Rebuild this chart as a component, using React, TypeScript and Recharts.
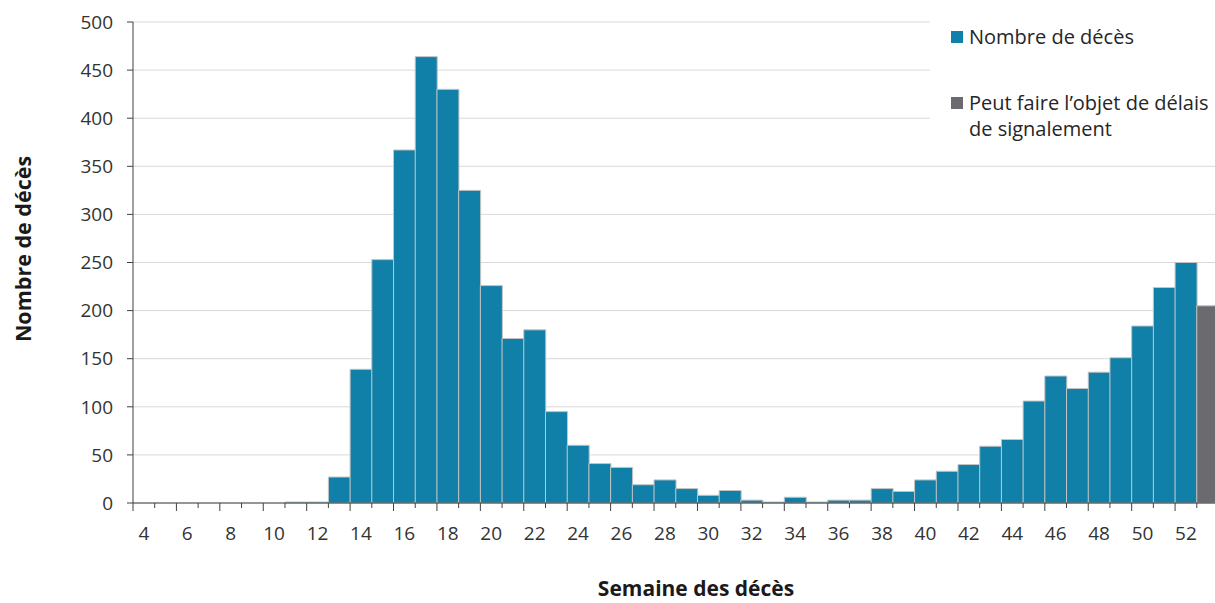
import React from 'react';
import { BarChart, Bar, XAxis, YAxis, CartesianGrid, Label } from 'recharts';

const weeks = [4, 5, 6, 7, 8, 9, 10, 11, 12, 13, 14, 15, 16, 17, 18, 19, 20, 21, 22, 23, 24, 25, 26, 27, 28, 29, 30, 31, 32, 33, 34, 35, 36, 37, 38, 39, 40, 41, 42, 43, 44, 45, 46, 47, 48, 49, 50, 51, 52, 53];
const deaths = [0, 0, 0, 0, 0, 0, 0, 1, 1, 27, 139, 253, 367, 464, 430, 325, 226, 171, 180, 95, 60, 41, 37, 19, 24, 15, 8, 13, 3, 1, 6, 1, 3, 3, 15, 12, 24, 33, 40, 59, 66, 106, 132, 119, 136, 151, 184, 224, 250, null];
const delayed = [null, null, null, null, null, null, null, null, null, null, null, null, null, null, null, null, null, null, null, null, null, null, null, null, null, null, null, null, null, null, null, null, null, null, null, null, null, null, null, null, null, null, null, null, null, null, null, null, null, 205];
const yTicks = [0, 50, 100, 150, 200, 250, 300, 350, 400, 450, 500];

const seriesNames = ['Nombre de décès', 'Peut faire l’objet de délais', 'de signalement'];
const yTitle = 'Nombre de décès';
const xTitle = 'Semaine des décès';

const data = weeks.map((w, i) => ({ week: w, deaths: deaths[i], delayed: delayed[i] }));

const CHART_W = 1232;
const CHART_H = 603;
const MARGIN = { top: 22, right: 13.5, left: 0, bottom: 0 };
const Y_W = 133;
const PLOT_W = CHART_W - MARGIN.right - MARGIN.left - Y_W;
const BW = PLOT_W / weeks.length;

const BLUE = '#1180a8';
const GREY = '#6a6a6f';
const AXIS = '#404040';
const TEXT = '#333333';
const FONT = '"Open Sans", sans-serif';

function WeekTick(props: any) {
  const { x, y, payload } = props;
  const w = payload.value;
  const left = x - BW / 2;
  const even = w % 2 === 0;
  return (
    <g>
      <line x1={left} x2={left} y1={y} y2={y + (even ? 8 : 5)} stroke={AXIS} strokeWidth={1} />
      {even && (
        <text x={x} y={y + 37} textAnchor="middle" fontFamily={FONT} fontSize={19} fill={TEXT}>
          {w}
        </text>
      )}
    </g>
  );
}

export default function App() {
  return (
    <div style={{ position: 'fixed', left: 0, top: 0, width: 1215, height: 603, overflow: 'hidden', background: '#fff' }}>
      <BarChart width={CHART_W} height={CHART_H} data={data} margin={MARGIN} barCategoryGap={0} barGap={0}>
        <CartesianGrid vertical={false} stroke="#d9d9d9" />
        <XAxis
          dataKey="week"
          type="category"
          interval={0}
          tickSize={0}
          tickMargin={0}
          tickLine={false}
          height={100}
          axisLine={{ stroke: AXIS }}
          tick={<WeekTick />}
        >
          <Label
            content={() => (
              <text x={696} y={596} textAnchor="middle" fontFamily={FONT} fontWeight="bold" fontSize={21} fill="#1a1a1a">
                {xTitle}
              </text>
            )}
          />
        </XAxis>
        <YAxis
          width={Y_W}
          domain={[0, 500]}
          ticks={yTicks}
          interval={0}
          tickSize={6}
          tickMargin={14}
          axisLine={{ stroke: AXIS }}
          tickLine={{ stroke: AXIS }}
          tick={{ fontSize: 19, fill: TEXT, fontFamily: FONT }}
        >
          <Label
            content={() => (
              <text
                x={22.5}
                y={249}
                transform="rotate(-90, 22.5, 249)"
                textAnchor="middle"
                dominantBaseline="central"
                fontFamily={FONT}
                fontWeight="bold"
                fontSize={21.5}
                fill="#1a1a1a"
              >
                {yTitle}
              </text>
            )}
          />
        </YAxis>
        <Bar dataKey="deaths" stackId="a" fill={BLUE} stroke="#c4c4c4" strokeWidth={1} isAnimationActive={false} />
        <Bar dataKey="delayed" stackId="a" fill={GREY} stroke="#c4c4c4" strokeWidth={1} isAnimationActive={false} />
      </BarChart>
      <div style={{ position: 'absolute', left: 930, top: 0, width: 285, height: 145, background: '#fff', fontFamily: FONT, fontSize: 20, color: '#262626' }}>
        <div style={{ position: 'absolute', left: 21, top: 31, width: 12, height: 12, background: BLUE }} />
        <div style={{ position: 'absolute', left: 39, top: 24, lineHeight: '26px', whiteSpace: 'nowrap' }}>{seriesNames[0]}</div>
        <div style={{ position: 'absolute', left: 21, top: 97, width: 12, height: 12, background: GREY }} />
        <div style={{ position: 'absolute', left: 39, top: 90, lineHeight: '25.5px', whiteSpace: 'nowrap' }}>
          {seriesNames[1]}
          <br />
          {seriesNames[2]}
        </div>
      </div>
    </div>
  );
}
